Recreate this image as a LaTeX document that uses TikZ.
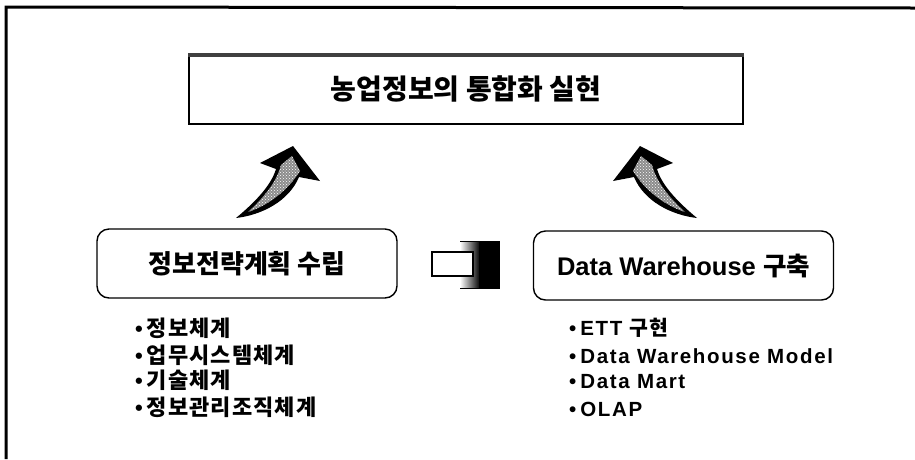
\documentclass[tikz,border=0pt]{standalone}
\usepackage{fontspec}
\setmainfont{Liberation Sans}
\newfontfamily\kr{Noto Sans CJK KR}
\newfontfamily\krs{Noto Sans CJK KR}[LetterSpace=5]
\newfontfamily\las{Liberation Sans}[LetterSpace=8]
\usetikzlibrary{patterns}
\newcommand\kritem{\fontsize{22}{24}\selectfont\bfseries •\hspace{4pt}\krs}
\newcommand\laitem{\fontsize{20.5}{24}\selectfont\bfseries •\hspace{4pt}\las}
\begin{document}
\begin{tikzpicture}[x=1pt,y=-1pt,
  topbox/.style={draw, line width=1.3pt, minimum width=554pt, minimum height=70pt, inner sep=0pt},
  rbox/.style={draw, line width=1.4pt, rounded corners=12pt, minimum width=300pt, minimum height=69pt, inner sep=0pt},
  item/.style={anchor=west, inner sep=0pt},
  horn/.pic={
    \fill[black] (293,146) -- (320,181) -- (299,177) .. controls (289,201) and (262,215) .. (236,218)
      .. controls (254,203) and (271,186) .. (276,169) -- (260,163) -- cycle;
    \fill[black!45] (292,156) -- (300,171) .. controls (286,193) and (266,206) .. (248,212)
      .. controls (262,199) and (276,184) .. (281,165) -- cycle;
    \fill[pattern=crosshatch dots, pattern color=white] (292,156) -- (300,171) .. controls (286,193) and (266,206) .. (248,212)
      .. controls (262,199) and (276,184) .. (281,165) -- cycle;
  }]
\useasboundingbox (0,0) rectangle (915,459);
% outer frame
\draw[line width=3pt] (6,459) -- (6,7) -- (915,8);
% goal box
\node[topbox] (goal) at (466,89) {\kr\bfseries\fontsize{28}{30}\selectfont 농업정보의 통합화 실현};
\fill[black!75] (goal.north west) rectangle ([yshift=-4pt]goal.north east);
% curved arrows
\pic at (0,0) {horn};
\pic[xscale=-1] at (933,0) {horn};
% two boxes
\node[rbox] (plan) at (247,263.5) {\kr\bfseries\fontsize{26}{28}\selectfont 정보전략계획 수립};
\node[rbox] (dw) at (683.5,265.5) {\bfseries\fontsize{25.5}{28}\selectfont Data Warehouse {\kr 구축}};
% plug between boxes
\shade[left color=white, right color=black] (460,241) rectangle (480,288);
\fill[black] (479,241) rectangle (500,288);
\draw[line width=0.6pt] (460,241) -- (500,241) (460,288) -- (500,288);
\node[draw, fill=white, line width=1.2pt, minimum width=41pt, minimum height=24pt, inner sep=0pt] (plug) at (452.5,264) {};
% left list
\begin{scope}[every node/.style={item}]
\node at (135,328) {\kritem 정보체계};
\node at (135,355) {\kritem 업무시스템체계};
\node at (135,380) {\kritem 기술체계};
\node at (135,407) {\kritem 정보관리조직체계};
% right list
\node at (569,328) {\laitem ETT {\krs 구현}};
\node at (569,356) {\laitem Data Warehouse Model};
\node at (569,382) {\laitem Data Mart};
\node at (569,409) {\laitem OLAP};
\end{scope}
\end{tikzpicture}
\end{document}
